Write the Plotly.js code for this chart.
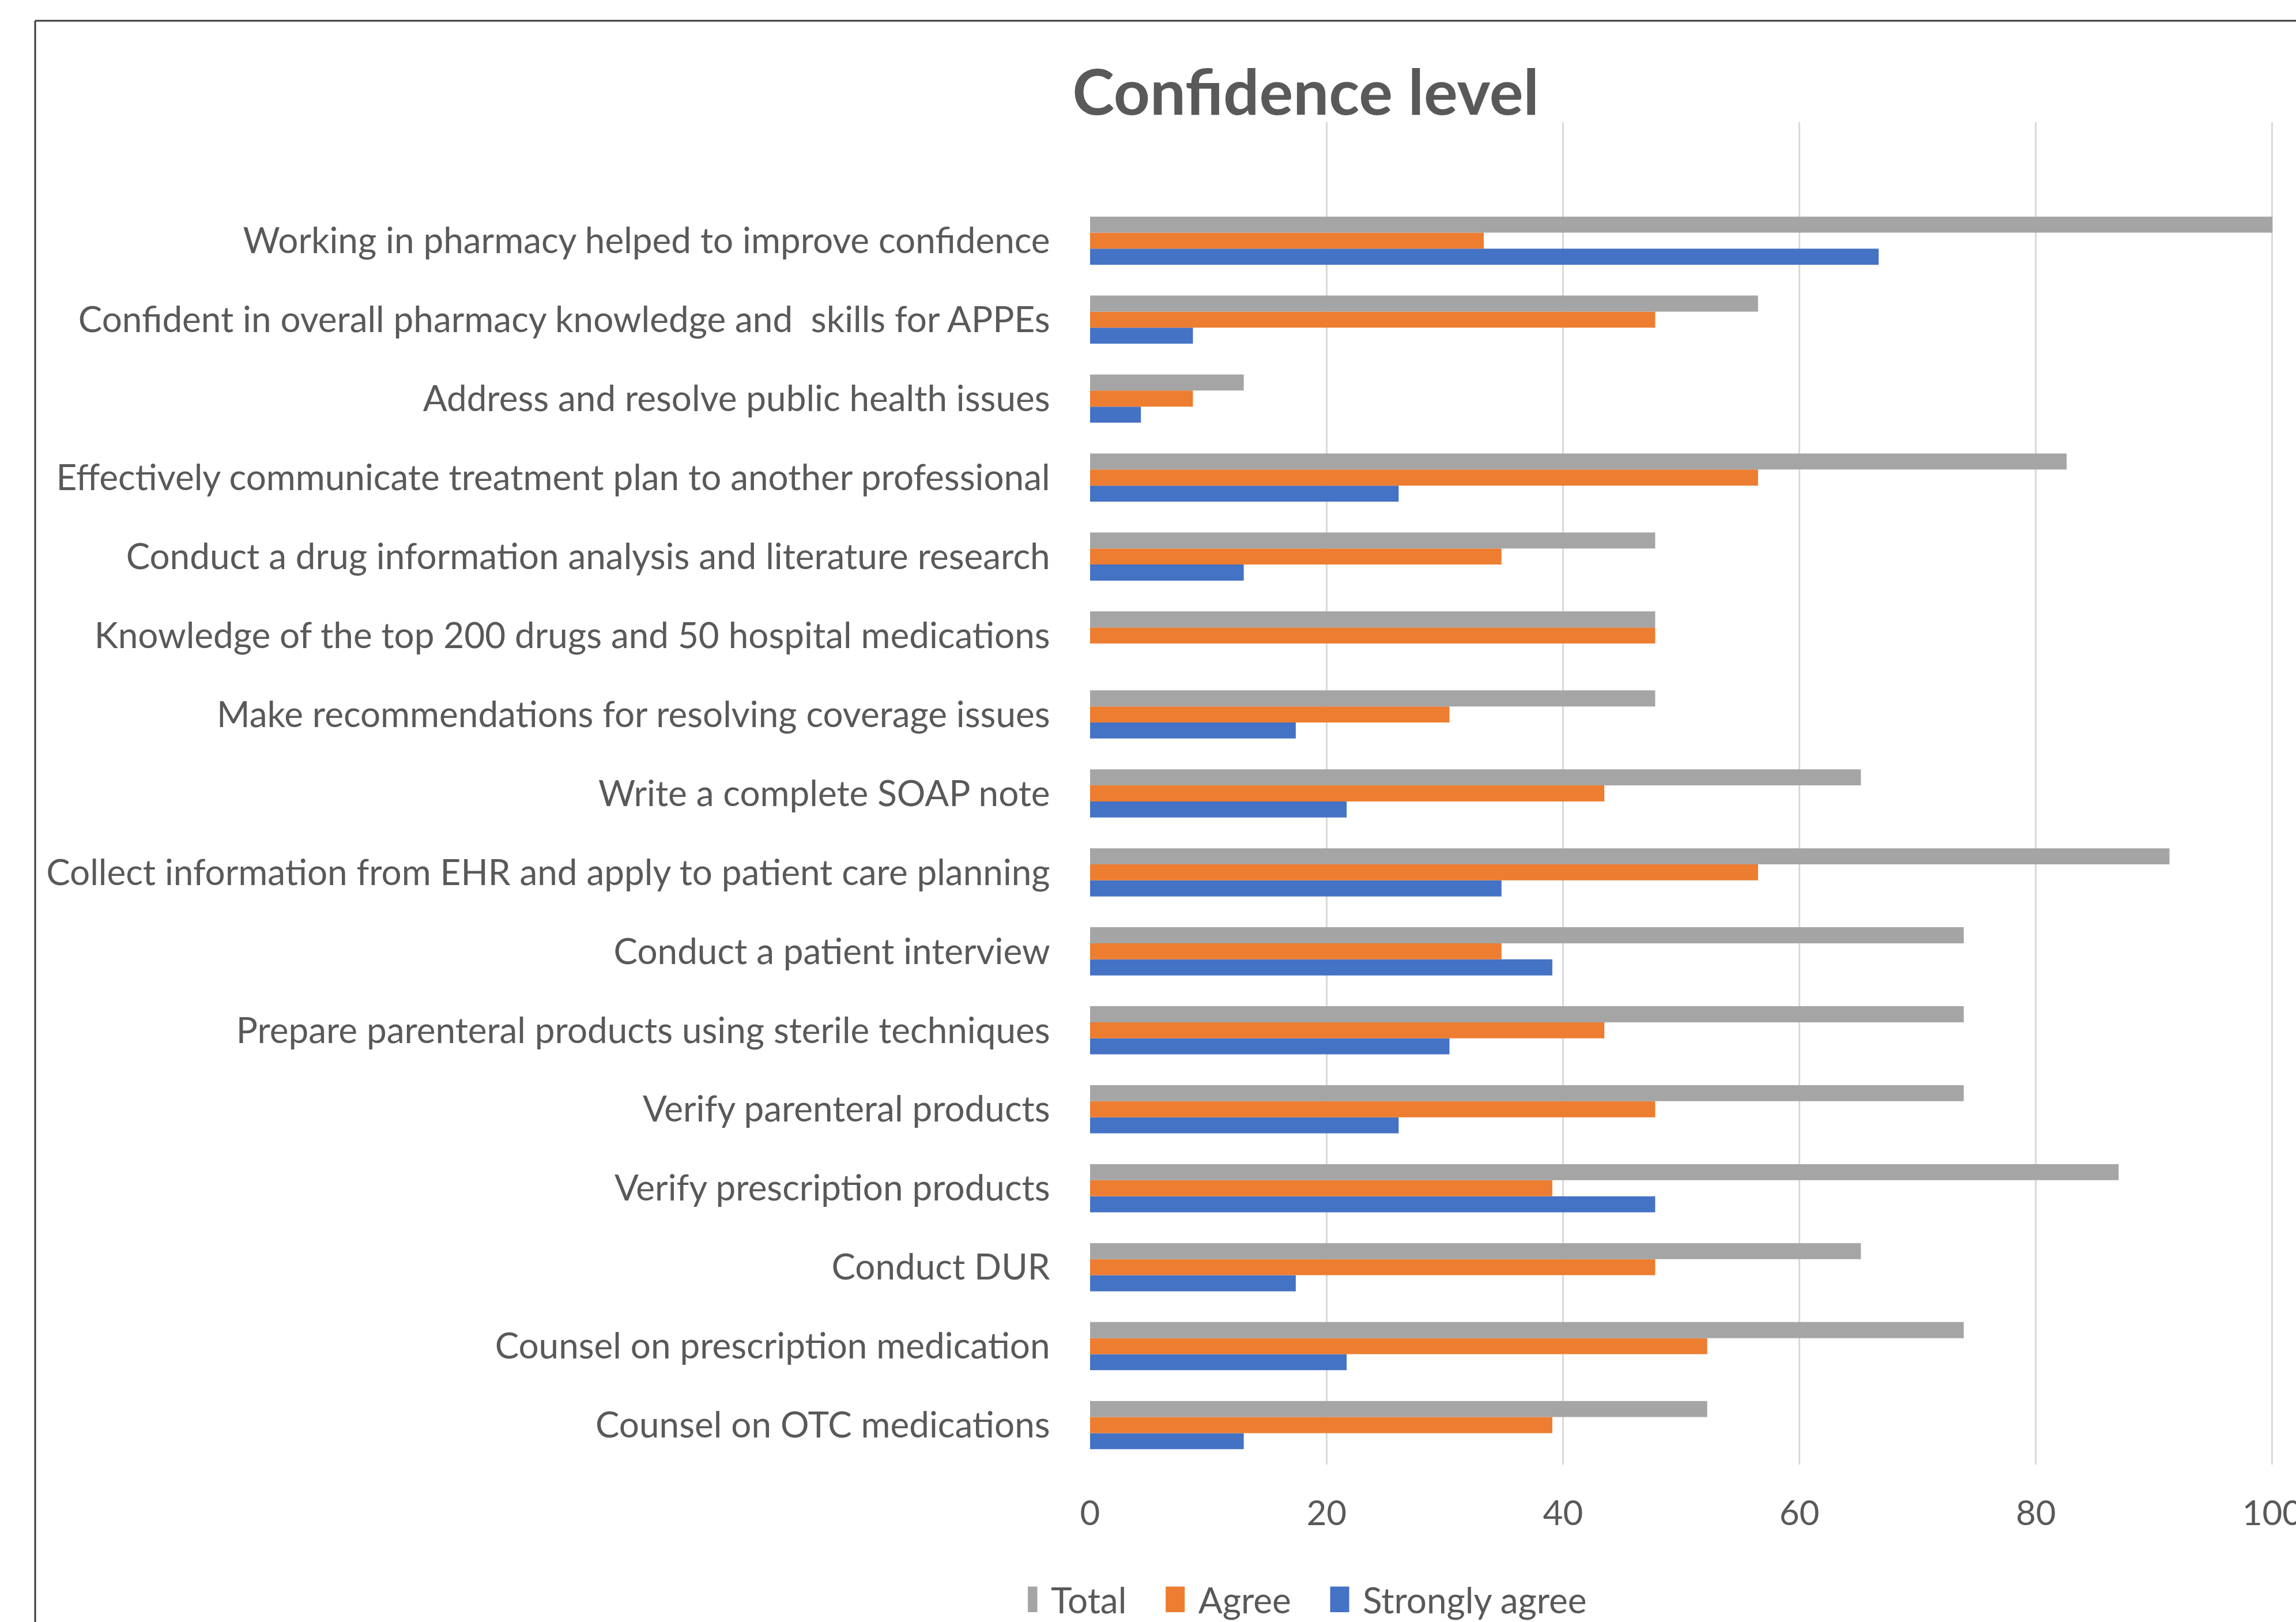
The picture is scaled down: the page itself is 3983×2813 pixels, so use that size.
<!DOCTYPE html>
<html>
<head>
<meta charset="utf-8">
<script src="https://cdn.plot.ly/plotly-3.0.1.min.js"></script>
<style>
  html, body { margin: 0; padding: 0; background: #ffffff; }
  #chart { width: 3983px; height: 2813px; }
</style>
</head>
<body>
<div id="chart"></div>
<script>
// Categories, bottom to top (as drawn on the vertical axis)
const categories = [
  "Counsel on OTC medications",
  "Counsel on prescription medication",
  "Conduct DUR",
  "Verify prescription products",
  "Verify parenteral products",
  "Prepare parenteral products using sterile techniques",
  "Conduct a patient interview",
  "Collect information from EHR and apply to patient care planning",
  "Write a complete SOAP note",
  "Make recommendations for resolving coverage issues",
  "Knowledge of the top 200 drugs and 50 hospital medications",
  "Conduct a drug information analysis and literature research",
  "Effectively communicate treatment plan to another professional",
  "Address and resolve public health issues",
  "Confident in overall pharmacy knowledge and  skills for APPEs",
  "Working in pharmacy helped to improve confidence"
];

const totalValues = [52.2, 73.9, 65.2, 87.0, 73.9, 73.9, 73.9, 91.3, 65.2, 47.8, 47.8, 47.8, 82.6, 13.0, 56.5, 100];
const agreeValues = [39.1, 52.2, 47.8, 39.1, 47.8, 43.5, 34.8, 56.5, 43.5, 30.4, 47.8, 34.8, 56.5, 8.7, 47.8, 33.3];
const stronglyAgreeValues = [13.0, 21.7, 17.4, 47.8, 26.1, 30.4, 39.1, 34.8, 21.7, 17.4, 0, 13.0, 26.1, 4.3, 8.7, 66.7];

const seriesNames = ["Total", "Agree", "Strongly agree"];
const xTickValues = [0, 20, 40, 60, 80, 100];

const FONT = "Lato, 'Open Sans', sans-serif";
const TEXT = "#595959";

// Plot area in pixels
const W = 3983, H = 2813;
const L = 1891, R = 3944, T = 212, B = 2540;
const px = (x) => (x - L) / (R - L);
const py = (y) => (B - y) / (B - T);
const PAD = "\u00a0\u00a0\u00a0\u00a0\u00a0"; // spacing between legend entries

const traces = [
  { name: seriesNames[2], y: categories, x: stronglyAgreeValues, type: "bar", orientation: "h",
    marker: { color: "#4472C4" }, hoverinfo: "x+name" },
  { name: seriesNames[1] + PAD, y: categories, x: agreeValues, type: "bar", orientation: "h",
    marker: { color: "#ED7D31" }, hoverinfo: "x+name" },
  { name: seriesNames[0] + PAD, y: categories, x: totalValues, type: "bar", orientation: "h",
    marker: { color: "#A5A5A5" }, hoverinfo: "x+name" }
];

const layout = {
  width: W, height: H,
  paper_bgcolor: "#ffffff", plot_bgcolor: "#ffffff",
  margin: { l: L, r: W - R, t: T, b: H - B, pad: 0, autoexpand: false },
  font: { family: FONT, color: TEXT, size: 60 },
  title: {
    text: "<b>Confidence level</b>",
    font: { family: FONT, size: 110, color: TEXT },
    x: 2265 / W, xanchor: "center", xref: "container",
    y: 1 - 160 / H, yanchor: "middle", yref: "container"
  },
  barmode: "group",
  bargap: 0.39,
  bargroupgap: 0,
  xaxis: {
    range: [0, 100.1],
    tickvals: xTickValues,
    ticktext: xTickValues.map(String),
    showgrid: true, gridcolor: "#D9D9D9", gridwidth: 3,
    zeroline: false, showline: false,
    ticks: "outside", ticklen: 32, tickcolor: "rgba(0,0,0,0)",
    ticklabeloverflow: "allow",
    tickfont: { family: FONT, size: 60, color: TEXT },
    fixedrange: true
  },
  yaxis: {
    type: "category",
    categoryorder: "array", categoryarray: categories,
    range: [-0.5, categories.length + 0.5],
    showgrid: false, zeroline: false, showline: false,
    ticks: "outside", ticklen: 56, tickcolor: "rgba(0,0,0,0)",
    tickfont: { family: FONT, size: 62, color: TEXT },
    fixedrange: true
  },
  legend: {
    orientation: "h", traceorder: "reversed",
    x: px(1783), xanchor: "left",
    y: py(2774), yanchor: "middle",
    font: { family: FONT, size: 62, color: TEXT },
    bgcolor: "rgba(0,0,0,0)"
  },
  shapes: [
    { type: "line", xref: "paper", yref: "paper",
      x0: px(61), x1: px(61), y0: py(H + 50), y1: py(36),
      line: { color: "#3a3a3a", width: 3 } },
    { type: "line", xref: "paper", yref: "paper",
      x0: px(61), x1: px(W + 50), y0: py(36), y1: py(36),
      line: { color: "#3a3a3a", width: 3 } }
  ],
  showlegend: true
};

Plotly.newPlot("chart", traces, layout, { displayModeBar: false, staticPlot: true }).then(function () {
  // Enlarge legend swatches to resemble the reference's tall rectangles
  document.querySelectorAll("#chart .legendpoints path").forEach(function (p) {
    p.setAttribute("transform", "scale(2.75,3.7)");
  });
});
</script>
</body>
</html>
